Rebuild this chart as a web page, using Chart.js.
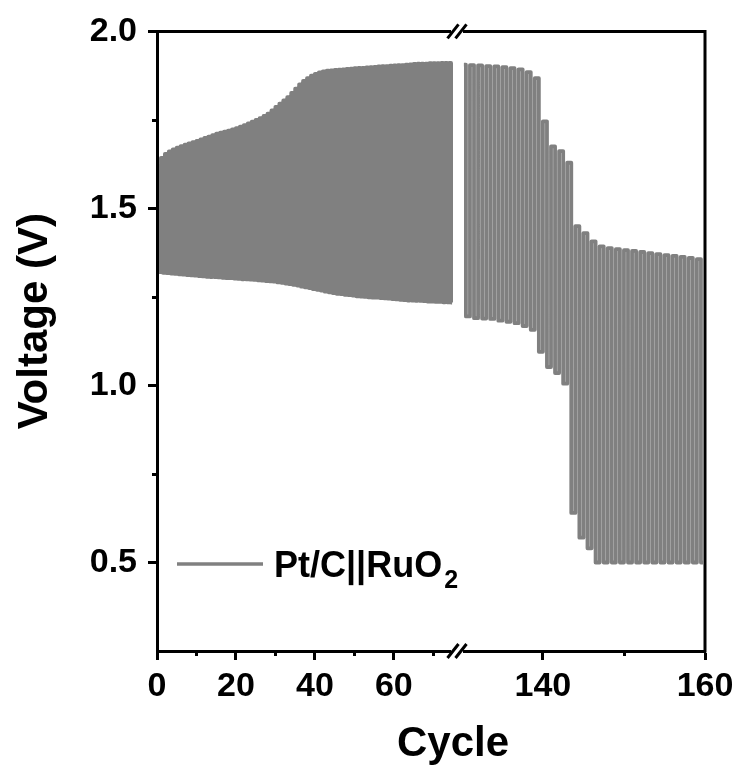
<!DOCTYPE html>
<html>
<head>
<meta charset="utf-8">
<title>Pt/C||RuO2 cycling</title>
<script src="https://cdn.jsdelivr.net/npm/chart.js@4.4.1/dist/chart.umd.min.js"></script>
<style>
  html, body { margin: 0; padding: 0; background: #fff; }
  #wrap { width: 740px; height: 771px; }
</style>
</head>
<body>
<div id="wrap"><canvas id="cycleChart" width="740" height="771"></canvas></div>
<script>
/* Galvanostatic cycling, Pt/C||RuO2 — broken cycle axis */

// ---- data ----
// charge / discharge voltage of each cycle, cycles 0..74
const leftStartCycle = 0;
const chargeLeft = [
    1.618, 1.643, 1.654, 1.661, 1.667, 1.672, 1.676, 1.680, 1.684, 1.687,
    1.691, 1.695, 1.699, 1.703, 1.707, 1.711, 1.714, 1.717, 1.720, 1.723,
    1.727, 1.731, 1.735, 1.740, 1.745, 1.750, 1.755, 1.761, 1.768, 1.777,
    1.787, 1.796, 1.805, 1.814, 1.826, 1.838, 1.850, 1.860, 1.868, 1.875,
    1.880, 1.884, 1.887, 1.889, 1.890, 1.891, 1.892, 1.893, 1.894, 1.895,
    1.896, 1.897, 1.897, 1.898, 1.899, 1.900, 1.901, 1.902, 1.902, 1.903,
    1.904, 1.905, 1.905, 1.906, 1.907, 1.908, 1.909, 1.909, 1.909, 1.910,
    1.910, 1.910, 1.911, 1.911, 1.911
];
const dischargeLeft = [
    1.320, 1.318, 1.317, 1.316, 1.315, 1.314, 1.313, 1.312, 1.311, 1.310,
    1.309, 1.308, 1.307, 1.306, 1.306, 1.305, 1.304, 1.303, 1.303, 1.302,
    1.301, 1.300, 1.300, 1.299, 1.298, 1.297, 1.296, 1.295, 1.294, 1.293,
    1.291, 1.290, 1.288, 1.286, 1.284, 1.282, 1.279, 1.277, 1.275, 1.272,
    1.270, 1.268, 1.265, 1.263, 1.261, 1.259, 1.258, 1.256, 1.255, 1.254,
    1.252, 1.251, 1.250, 1.249, 1.248, 1.248, 1.247, 1.246, 1.245, 1.244,
    1.243, 1.242, 1.241, 1.240, 1.240, 1.239, 1.239, 1.238, 1.237, 1.237,
    1.236, 1.236, 1.235, 1.235, 1.234
];
// cycles 130..159
const rightStartCycle = 130;
const chargeRight = [
    1.906, 1.905, 1.904, 1.902, 1.901, 1.899, 1.896, 1.893, 1.885, 1.868,
    1.746, 1.675, 1.662, 1.629, 1.450, 1.430, 1.407, 1.393, 1.388, 1.385,
    1.382, 1.380, 1.377, 1.374, 1.371, 1.368, 1.366, 1.363, 1.360, 1.357
];
const dischargeRight = [
    1.195, 1.190, 1.189, 1.188, 1.183, 1.180, 1.176, 1.168, 1.157, 1.095,
    1.052, 1.035, 1.005, 0.640, 0.570, 0.540, 0.500, 0.500, 0.500, 0.500,
    0.500, 0.500, 0.500, 0.500, 0.500, 0.500, 0.500, 0.500, 0.500, 0.500
];

const xMajorTicks = [0, 20, 40, 60, 140, 160];
const xMinorTicks = [10, 30, 50, 70, 150];
const yMajorTicks = [0.5, 1.0, 1.5, 2.0];
const yMinorTicks = [0.75, 1.25, 1.75];

const seriesLabel = 'Pt/C||RuO\u2082';
const legendMain = 'Pt/C||RuO';
const legendSub = '2';

// ---- axis break ----
const X_MIN = 0, X_MAX = 160;
const BREAK_FROM = 76.0;     // left segment ends
const BREAK_TO = 129.4;      // right segment starts
const BREAK_FRAC = 300 / 548; // share of the axis length used by the left segment

// axis titles sit a little off the plot centre in the original
const X_TITLE_SHIFT = 22;
const Y_TITLE_SHIFT = -20;

const GREY = '#808080';
const FONT = '"Liberation Sans", Arial, Helvetica, sans-serif';

const isIn = (list, v) => list.some(t => Math.abs(t - v) < 1e-6);

// linear scale with a gap between BREAK_FROM and BREAK_TO
class BrokenLinearScale extends Chart.LinearScale {
    static id = 'brokenLinear';
    static defaults = {};

    buildTicks() {
        return [...xMajorTicks, ...xMinorTicks]
            .sort((a, b) => a - b)
            .map(value => ({ value }));
    }

    valueToDecimal(v) {
        if (v <= BREAK_FROM) return (v - X_MIN) / (BREAK_FROM - X_MIN) * BREAK_FRAC;
        if (v >= BREAK_TO) return BREAK_FRAC + (v - BREAK_TO) / (X_MAX - BREAK_TO) * (1 - BREAK_FRAC);
        return BREAK_FRAC;
    }

    getPixelForValue(value) {
        return this.getPixelForDecimal(this.valueToDecimal(value));
    }

    getValueForPixel(pixel) {
        const d = this.getDecimalForPixel(pixel);
        if (d <= BREAK_FRAC) return X_MIN + d / BREAK_FRAC * (BREAK_FROM - X_MIN);
        return BREAK_TO + (d - BREAK_FRAC) / (1 - BREAK_FRAC) * (X_MAX - BREAK_TO);
    }

    drawTitle() {
        this.ctx.save();
        this.ctx.translate(X_TITLE_SHIFT, 0);
        super.drawTitle();
        this.ctx.restore();
    }
}

// plain linear scale whose title is nudged along the axis
class ShiftedTitleLinearScale extends Chart.LinearScale {
    static id = 'shiftedTitleLinear';
    static defaults = {};

    drawTitle() {
        this.ctx.save();
        this.ctx.translate(0, Y_TITLE_SHIFT);
        super.drawTitle();
        this.ctx.restore();
    }
}
Chart.register(BrokenLinearScale, ShiftedTitleLinearScale);

// one charge point and one discharge point per cycle
function cyclePoints(start, charge, discharge) {
    const pts = [];
    charge.forEach((v, i) => {
        pts.push({ x: start + i + 0.25, y: v });
        pts.push({ x: start + i + 0.75, y: discharge[i] });
    });
    return pts;
}

const points = [
    ...cyclePoints(leftStartCycle, chargeLeft, dischargeLeft),
    { x: (BREAK_FROM + BREAK_TO) / 2, y: null },
    ...cyclePoints(rightStartCycle, chargeRight, dischargeRight)
];

// minor ticks, closed frame, break marks and the legend
const decorations = {
    id: 'decorations',
    afterDraw(chart) {
        const { ctx, chartArea: a, scales: { x, y } } = chart;
        ctx.save();
        ctx.strokeStyle = '#000';
        ctx.lineWidth = 3;
        ctx.lineCap = 'butt';

        // minor ticks
        ctx.beginPath();
        xMinorTicks.forEach(v => {
            const px = Math.round(x.getPixelForValue(v)) + 0.5;
            ctx.moveTo(px, a.bottom);
            ctx.lineTo(px, a.bottom + 5);
        });
        yMinorTicks.forEach(v => {
            const py = Math.round(y.getPixelForValue(v)) + 0.5;
            ctx.moveTo(a.left, py);
            ctx.lineTo(a.left - 5, py);
        });
        ctx.stroke();

        // top and right edges
        ctx.beginPath();
        ctx.moveTo(a.left - 1.5, a.top);
        ctx.lineTo(a.right, a.top);
        ctx.lineTo(a.right, a.bottom + 1.5);
        ctx.stroke();

        // break marks on top and bottom axis
        const bx = x.getPixelForDecimal(BREAK_FRAC);
        [a.top, a.bottom].forEach(by => {
            ctx.fillStyle = '#fff';
            ctx.fillRect(bx - 6, by - 3, 12, 6);
            ctx.beginPath();
            [-4, 4].forEach(off => {
                ctx.moveTo(bx + off - 5.5, by + 7);
                ctx.lineTo(bx + off + 5.5, by - 7);
            });
            ctx.stroke();
        });

        // legend
        const lx = 177, ly = 564;
        ctx.strokeStyle = GREY;
        ctx.lineWidth = 3.5;
        ctx.beginPath();
        ctx.moveTo(lx, ly);
        ctx.lineTo(lx + 86, ly);
        ctx.stroke();
        ctx.fillStyle = '#000';
        ctx.textBaseline = 'alphabetic';
        ctx.font = 'bold 36px ' + FONT;
        ctx.fillText(legendMain, lx + 97, ly + 13);
        const w = ctx.measureText(legendMain).width;
        ctx.font = 'bold 25px ' + FONT;
        ctx.fillText(legendSub, lx + 97 + w + 2, ly + 24);
        ctx.restore();
    }
};

const ctx = document.getElementById('cycleChart').getContext('2d');
new Chart(ctx, {
    type: 'line',
    data: {
        datasets: [{
            label: seriesLabel,
            data: points,
            borderColor: GREY,
            backgroundColor: GREY,
            borderWidth: 3.8,
            stepped: 'middle',
            borderJoinStyle: 'round',
            pointRadius: 0,
            spanGaps: false,
            fill: false
        }]
    },
    options: {
        responsive: false,
        devicePixelRatio: 1,
        animation: false,
        events: [],
        layout: { padding: { top: 27, right: 35, bottom: 0, left: 0 } },
        plugins: {
            legend: { display: false },
            tooltip: { enabled: false }
        },
        scales: {
            x: {
                type: 'brokenLinear',
                position: 'bottom',
                min: X_MIN,
                max: X_MAX,
                afterFit: s => { s.height = 120; },
                border: { display: true, color: '#000', width: 3, z: 1 },
                grid: {
                    drawOnChartArea: false,
                    drawTicks: true,
                    tickLength: 9,
                    tickWidth: 3,
                    tickColor: c => (c.tick && isIn(xMajorTicks, c.tick.value)) ? '#000' : 'rgba(0,0,0,0)'
                },
                ticks: {
                    autoSkip: false,
                    maxRotation: 0,
                    padding: 6,
                    color: '#000',
                    font: { family: FONT, size: 34, weight: 'bold' },
                    callback: v => isIn(xMajorTicks, v) ? String(v) : ''
                },
                title: {
                    display: true,
                    text: 'Cycle',
                    color: '#000',
                    font: { family: FONT, size: 42, weight: 'bold' },
                    padding: { top: 0, bottom: 1 }
                }
            },
            y: {
                type: 'shiftedTitleLinear',
                position: 'left',
                min: 0.25,
                max: 2.0,
                afterFit: s => { s.width = 157; },
                border: { display: true, color: '#000', width: 3, z: 1 },
                grid: {
                    drawOnChartArea: false,
                    drawTicks: true,
                    tickLength: 9,
                    tickWidth: 3,
                    tickColor: c => (c.tick && isIn(yMajorTicks, c.tick.value)) ? '#000' : 'rgba(0,0,0,0)'
                },
                ticks: {
                    stepSize: 0.25,
                    autoSkip: false,
                    padding: 11,
                    color: '#000',
                    font: { family: FONT, size: 34, weight: 'bold' },
                    callback: v => isIn(yMajorTicks, v) ? v.toFixed(1) : ''
                },
                title: {
                    display: true,
                    text: 'Voltage (V)',
                    color: '#000',
                    font: { family: FONT, size: 42, weight: 'bold' },
                    padding: { top: 10, bottom: 0 }
                }
            }
        }
    },
    plugins: [decorations]
});
</script>
</body>
</html>
